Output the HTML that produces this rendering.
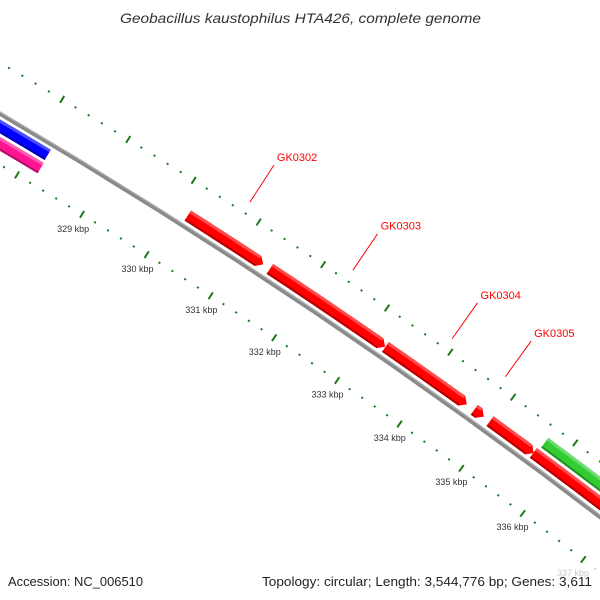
<!DOCTYPE html>
<html><head><meta charset="utf-8"><style>
html,body{margin:0;padding:0;background:#fff;width:600px;height:600px;overflow:hidden}
svg{display:block;font-family:"Liberation Sans",sans-serif}
</style></head><body>
<svg id="map" width="600" height="600" viewBox="0 0 600 600" xmlns="http://www.w3.org/2000/svg">
<rect width="600" height="600" fill="#fff"/>
<g id="plot"></g>
<rect x="0" y="566" width="600" height="34" fill="#fff" opacity="0.72"/>
<text x="120" y="23" textLength="361" lengthAdjust="spacingAndGlyphs" font-size="14" font-style="italic" fill="#333">Geobacillus kaustophilus HTA426, complete genome</text>
<text x="8" y="586" textLength="135" lengthAdjust="spacingAndGlyphs" font-size="13" fill="#222">Accession: NC_006510</text>
<text x="262" y="586" textLength="330" lengthAdjust="spacingAndGlyphs" font-size="13" fill="#222">Topology: circular; Length: 3,544,776 bp; Genes: 3,611</text>
</svg>
<script>
// ---- data ----
const geneNames  = ["", "", "GK0302", "GK0303", "GK0304", "GK0305", "", "", ""];
const geneStarts = [325500, 325500, 330180, 331455, 333270, 334687, 334940, 335640, 335680];
const geneEnds   = [328210, 328220, 331350, 333265, 334567, 334840, 335645, 338500, 338500];
const geneStrand = [-1, -1, 1, 1, 1, 1, 1, 1, 1];
const geneRing   = [1, 2, 1, 1, 1, 1, 1, 1, 2];
const geneColors = ["#0000ff", "#ff1493", "#ff0000", "#ff0000", "#ff0000", "#ff0000", "#ff0000", "#ff0000", "#33cc33"];
const majorTicksKbp = [326, 327, 328, 329, 330, 331, 332, 333, 334, 335, 336, 337, 338];
const labelTicksKbp = [329, 330, 331, 332, 333, 334, 335, 336, 337];
const tickLabels = ["329 kbp","330 kbp","331 kbp","332 kbp","333 kbp","334 kbp","335 kbp","336 kbp","337 kbp"];
const minorStepBp = 200;

// ---- geometry (zoomed arc of circular map) ----
const NS = "http://www.w3.org/2000/svg";
const CX = -3022, CY = 5260;
const R0 = 5968;
const A0 = -58.40, BP0 = 329000, DEG_PER_BP = 0.000736;
function ang(bp){ return (A0 + (bp - BP0) * DEG_PER_BP) * Math.PI / 180; }
function pt(bp, r){ const a = ang(bp); return [CX + r * Math.cos(a), CY + r * Math.sin(a)]; }
function P(p){ return p[0].toFixed(2) + "," + p[1].toFixed(2); }
const plot = document.getElementById("plot");
function mk(tag, attrs){ const e = document.createElementNS(NS, tag); for (const k in attrs) e.setAttribute(k, attrs[k]); plot.appendChild(e); return e; }
function arcPts(b0, b1, r){ const n = 12, out = []; for (let i = 0; i <= n; i++) out.push(pt(b0 + (b1 - b0) * i / n, r)); return out; }

const bpMin = 325000, bpMax = 339500;
// backbone
{
  const outer = arcPts(bpMin, bpMax, R0 + 2.2), inner = arcPts(bpMin, bpMax, R0 - 2.2).reverse();
  const e = mk("polygon", {points: outer.concat(inner).map(P).join(" "), fill: "#8a8a8a"});
  
  
  const hl = arcPts(bpMin, bpMax, R0 + 1).concat(arcPts(bpMin, bpMax, R0 + 2.2).reverse());
  const e2 = mk("polygon", {points: hl.map(P).join(" "), fill: "#b5b5b5"});
  
  
}

// ticks: two rows
const rowRadii = [6012, 5924];
rowRadii.forEach(function(rr, ri){
  for (let bp = bpMin; bp <= bpMax; bp += minorStepBp) {
    const kb = bp / 1000;
    const isMajor = majorTicksKbp.indexOf(Math.round(kb)) >= 0 && Math.abs(kb - Math.round(kb)) < 1e-6;
    const h = isMajor ? 4 : 1;
    const a = pt(bp, rr - h), b = pt(bp, rr + h);
    const l = mk("line", {x1: a[0], y1: a[1], x2: b[0], y2: b[1], stroke: "#1a7a1a", "stroke-width": 2, "stroke-linecap": "butt"});
    
    
  }
});
labelTicksKbp.forEach(function(kb, i){
  const p = pt(kb * 1000, 5907);
  const t = mk("text", {x: p[0], y: p[1] + 3, "text-anchor": "middle", "font-size": "9", fill: "#333"});
  t.textContent = tickLabels[i];
  
  
});

// genes
const ringR = {"1": [5973, 5985], "-1": [5951, 5963], "2": [5988, 6000], "-2": [5936, 5948]};
const headBp = 80;
function shade(c, f){ const n = parseInt(c.slice(1), 16); let r = n >> 16, g = (n >> 8) & 255, b = n & 255;
  if (f > 0) { r += (255 - r) * f; g += (255 - g) * f; b += (255 - b) * f; } else { r *= 1 + f; g *= 1 + f; b *= 1 + f; }
  return "rgb(" + Math.round(r) + "," + Math.round(g) + "," + Math.round(b) + ")"; }
geneStarts.forEach(function(s, i){
  const e = geneEnds[i], st = geneStrand[i];
  const rr = ringR[String(st * geneRing[i])], rIn = rr[0], rOut = rr[1], rMid = (rIn + rOut) / 2;
  let pts;
  if (st > 0) {
    const bodyEnd = Math.max(s, e - headBp);
    pts = arcPts(s, bodyEnd, rOut).concat([pt(e, rMid)]).concat(arcPts(s, bodyEnd, rIn).reverse());
  } else {
    const bodyStart = Math.min(e, s + headBp);
    pts = [pt(s, rMid)].concat(arcPts(bodyStart, e, rOut)).concat(arcPts(bodyStart, e, rIn).reverse());
  }
  const g = mk("polygon", {points: pts.map(P).join(" "), fill: geneColors[i]});
  
  
  const b0 = st > 0 ? s : Math.min(e, s + headBp), b1 = st > 0 ? Math.max(s, e - headBp) : e;
  const hl = arcPts(b0, b1, rOut).concat(arcPts(b0, b1, rOut - 3).reverse());
  const h = mk("polygon", {points: hl.map(P).join(" "), fill: shade(geneColors[i], 0.3)});
  
  
  const sh = arcPts(b0, b1, rIn + 2).concat(arcPts(b0, b1, rIn).reverse());
  const d = mk("polygon", {points: sh.map(P).join(" "), fill: shade(geneColors[i], -0.3)});
  
  
  if (geneNames[i]) {
    const mid = (s + e) / 2, a = pt(mid, 6024), b = pt(mid, 6068);
    const l = mk("line", {x1: a[0], y1: a[1], x2: b[0], y2: b[1], stroke: "#ff0000", "stroke-width": 1});
    
    
    const t = mk("text", {x: b[0] + 3, y: b[1] - 4, "font-size": "11", fill: "#ff0000"});
    t.textContent = geneNames[i];
    
    
  }
});
</script>
</body></html>
